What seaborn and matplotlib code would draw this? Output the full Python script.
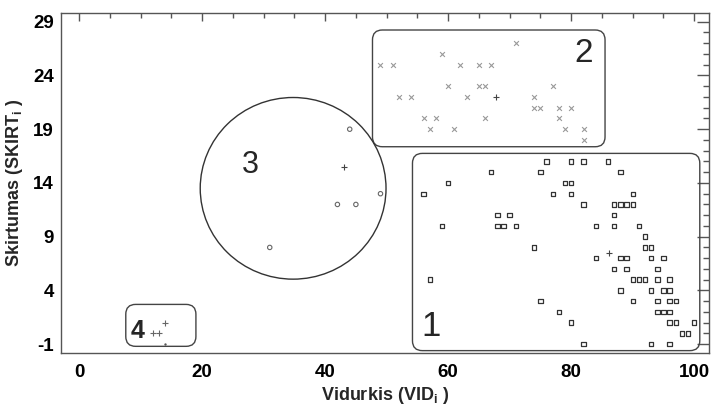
import matplotlib
matplotlib.use('agg')
import matplotlib.pyplot as plt
from matplotlib.patches import Ellipse, FancyBboxPatch
import seaborn as sns
import pandas as pd

# cluster 1 (squares)
c1_x = [76, 80, 82, 86, 67, 75, 88, 60, 79, 80, 56, 77, 80, 90,
        82, 87, 88, 89, 90, 68, 70, 87, 59, 68, 69, 71, 84, 87, 91,
        92, 74, 92, 93, 84, 88, 89, 93, 95, 87, 89, 94,
        57, 90, 91, 92, 94, 96, 88, 93, 95, 96, 75, 90, 94, 96, 97,
        78, 94, 95, 96, 80, 96, 97, 100, 98, 99, 82, 93, 96]
c1_y = [16, 16, 16, 16, 15, 15, 15, 14, 14, 14, 13, 13, 13, 13,
        12, 12, 12, 12, 12, 11, 11, 11, 10, 10, 10, 10, 10, 10, 10,
        9, 8, 8, 8, 7, 7, 7, 7, 7, 6, 6, 6,
        5, 5, 5, 5, 5, 5, 4, 4, 4, 4, 3, 3, 3, 3, 3,
        2, 2, 2, 2, 1, 1, 1, 1, 0, 0, -1, -1, -1]

# cluster 2 (crosses)
c2_x = [71, 59, 49, 51, 62, 65, 67, 60, 65, 66, 77, 52, 54, 63, 74,
        74, 75, 78, 80, 56, 58, 66, 78, 57, 61, 79, 82, 82]
c2_y = [27, 26, 25, 25, 25, 25, 25, 23, 23, 23, 23, 22, 22, 22, 22,
        21, 21, 21, 21, 20, 20, 20, 20, 19, 19, 19, 19, 18]

# cluster 3 (circles)
c3_x = [44, 42, 45, 31, 49]
c3_y = [19, 12, 12, 8, 13]

# cluster 4 (plus)
c4_x = [14, 12, 13]
c4_y = [1, 0, 0]
c4_dot_x = [14]
c4_dot_y = [-1]

# cluster centres
cen_x = [86.2, 67.7, 43.0]
cen_y = [7.5, 22.0, 15.5]

sns.set_style("white")
plt.rcParams['font.family'] = ['Liberation Sans', 'DejaVu Sans']
plt.rcParams['axes.unicode_minus'] = False
plt.rcParams['mathtext.fontset'] = 'custom'
plt.rcParams['mathtext.rm'] = 'Liberation Sans:bold'
plt.rcParams['mathtext.it'] = 'Liberation Sans:bold'
plt.rcParams['mathtext.bf'] = 'Liberation Sans:bold'

fig = plt.figure(figsize=(7.11, 4.07), dpi=100)
ax = fig.add_axes([0.0858, 0.1327, 0.9114, 0.8361])

df1 = pd.DataFrame({'x': c1_x, 'y': c1_y})
df2 = pd.DataFrame({'x': c2_x, 'y': c2_y})
df3 = pd.DataFrame({'x': c3_x, 'y': c3_y})
df4 = pd.DataFrame({'x': c4_x, 'y': c4_y})

sns.scatterplot(data=df1, x='x', y='y', marker='s', s=10, facecolor='none',
                edgecolor='#333333', linewidth=0.9, ax=ax, zorder=3)
sns.scatterplot(data=df2, x='x', y='y', marker='x', s=12, color='#999999',
                linewidth=0.8, ax=ax, zorder=3)
sns.scatterplot(data=df3, x='x', y='y', marker='o', s=10, facecolor='none',
                edgecolor='#666666', linewidth=0.8, ax=ax, zorder=3)
sns.scatterplot(data=df4, x='x', y='y', marker='+', s=14, color='#666666',
                linewidth=0.8, ax=ax, zorder=3)
ax.scatter(c4_dot_x, c4_dot_y, marker='.', s=2, color='#555555', zorder=3)
ax.scatter(cen_x, cen_y, marker='+', s=16, color='#444444', linewidths=0.8, zorder=3)

ax.set_xlim(-2.93, 102.4)
ax.set_ylim(-1.82, 29.84)

# rounded cluster boxes (x0, y0, w, h)
asp = 6.153 / 10.75
boxes = [(54.2, -1.6, 46.7, 18.35), (47.7, 17.37, 37.8, 10.86), (7.6, -1.2, 11.4, 3.9)]
for bx, by, bw, bh in boxes:
    ax.add_patch(FancyBboxPatch((bx, by), bw, bh,
                                boxstyle="round,pad=0,rounding_size=1.6",
                                mutation_aspect=asp, facecolor='none',
                                edgecolor='#444444', linewidth=1.0, zorder=2))
ax.add_patch(Ellipse((34.8, 13.5), 30.2, 16.9, facecolor='none',
                     edgecolor='#333333', linewidth=1.0, zorder=2))

ax.text(57.2, 0.6, '1', fontsize=25, ha='center', va='center')
ax.text(82.0, 26.0, '2', fontsize=24, ha='center', va='center')
ax.text(27.8, 15.7, '3', fontsize=22, ha='center', va='center')
ax.text(9.5, 0.2, '4', fontsize=18, fontweight='bold', ha='center', va='center')

ax.set_xticks(range(0, 101, 20))
ax.set_xticks(range(0, 101, 5), minor=True)
ax.set_yticks(range(-1, 30, 5))
ax.set_yticks(range(-1, 30, 1), minor=True)
ax.tick_params(which='both', direction='in', top=True, right=True,
               colors='#555555', labelcolor='black', width=1)
ax.tick_params(axis='x', which='major', length=6, pad=8)
ax.tick_params(axis='x', which='minor', length=3.5)
ax.tick_params(axis='y', which='major', length=8.5, pad=5)
ax.tick_params(axis='y', which='minor', length=4.5)
for lab in ax.get_xticklabels() + ax.get_yticklabels():
    lab.set_fontsize(13.5)
    lab.set_fontweight('bold')
for sp in ax.spines.values():
    sp.set_color('#555555')
    sp.set_linewidth(1.0)

ax.set_xlabel(r'Vidurkis (VID$_{\mathrm{i}}$ )', fontsize=13, fontweight='bold', labelpad=3)
ax.set_ylabel(r'Skirtumas (SKIRT$_{\mathrm{i}}$ )', fontsize=13, fontweight='bold', labelpad=6)

fig.savefig('out.png', dpi=100)
